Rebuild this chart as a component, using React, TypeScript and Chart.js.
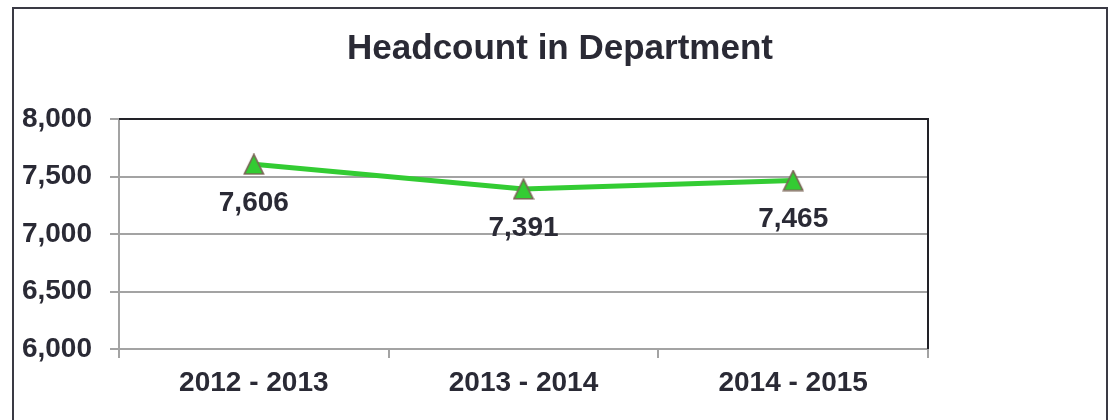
import React, { useEffect, useRef } from "react";
import { Chart, registerables } from "chart.js";

Chart.register(...registerables);

const categories = ["2012 - 2013", "2013 - 2014", "2014 - 2015"];
const headcount = [7606, 7391, 7465];
const yTicks = [6000, 6500, 7000, 7500, 8000];
const chartTitle = "Headcount in Department";

const TEXT = "#2a2a35";
const GRID = "#a3a3a3";
const FONT = "'Liberation Sans', Arial, sans-serif";

function makeTriangle(): HTMLCanvasElement {
  const c = document.createElement("canvas");
  c.width = 22;
  c.height = 22;
  const ctx = c.getContext("2d")!;
  ctx.beginPath();
  ctx.moveTo(11, 1.2);
  ctx.lineTo(20.6, 20.8);
  ctx.lineTo(1.4, 20.8);
  ctx.closePath();
  ctx.fillStyle = "#33cc33";
  ctx.fill();
  ctx.lineWidth = 1.6;
  ctx.strokeStyle = "#7a6656";
  ctx.lineJoin = "miter";
  ctx.stroke();
  return c;
}

const decorPlugin = {
  id: "decor",
  beforeDraw(chart: any) {
    const ctx = chart.ctx;
    ctx.save();
    ctx.fillStyle = "#ffffff";
    ctx.fillRect(0, 0, chart.width, chart.height);
    ctx.strokeStyle = "#3a3a44";
    ctx.lineWidth = 2;
    ctx.strokeRect(13, 8, 1094, 440);
    ctx.fillStyle = TEXT;
    ctx.font = `bold 35px ${FONT}`;
    ctx.textAlign = "center";
    ctx.textBaseline = "middle";
    ctx.fillText(chartTitle, 560, 49);
    ctx.restore();
  },
  afterDatasetsDraw(chart: any) {
    const ctx = chart.ctx;
    const a = chart.chartArea;
    ctx.save();
    ctx.strokeStyle = "#222228";
    ctx.lineWidth = 2;
    ctx.beginPath();
    ctx.moveTo(a.left, a.top);
    ctx.lineTo(a.right, a.top);
    ctx.lineTo(a.right, a.bottom);
    ctx.stroke();
    const meta = chart.getDatasetMeta(0);
    ctx.fillStyle = TEXT;
    ctx.font = `bold 28px ${FONT}`;
    ctx.textAlign = "center";
    ctx.textBaseline = "middle";
    meta.data.forEach((el: any, i: number) => {
      const v = chart.data.datasets[0].data[i] as number;
      ctx.fillText(v.toLocaleString("en-US"), el.x, el.y + 39);
    });
    ctx.restore();
  },
};

export default function App() {
  const ref = useRef<HTMLCanvasElement | null>(null);
  useEffect(() => {
    if (!ref.current) return;
    const tri = makeTriangle();
    const chart = new Chart(ref.current, {
      type: "line",
      data: {
        labels: categories,
        datasets: [
          {
            data: headcount,
            borderColor: "#33cc33",
            borderWidth: 5,
            pointStyle: tri as any,
            pointRadius: 11,
            tension: 0,
          },
        ],
      },
      options: {
        animation: false,
        responsive: false,
        devicePixelRatio: 1,
        layout: { padding: { top: 119, right: 183, bottom: 0, left: 0 } },
        plugins: {
          legend: { display: false },
          title: { display: false },
          tooltip: { enabled: false },
        },
        scales: {
          x: {
            type: "category",
            offset: true,
            grid: {
              offset: true,
              drawOnChartArea: false,
              drawTicks: true,
              tickLength: 9,
              color: GRID,
              lineWidth: 2,
            },
            border: { display: true, color: GRID, width: 2 },
            ticks: {
              color: TEXT,
              font: { family: FONT, size: 28, weight: "bold" },
              padding: 8,
              maxRotation: 0,
            },
            afterFit(scale: any) {
              scale.height = 71;
            },
          },
          y: {
            min: yTicks[0],
            max: yTicks[yTicks.length - 1],
            afterBuildTicks(scale: any) {
              scale.ticks = yTicks.map((v) => ({ value: v }));
            },
            grid: {
              color: GRID,
              lineWidth: 2,
              tickLength: 9,
              drawTicks: true,
            },
            border: { display: true, color: GRID, width: 2 },
            ticks: {
              color: TEXT,
              font: { family: FONT, size: 28, weight: "bold" },
              padding: 18,
              callback: (v: any) => Number(v).toLocaleString("en-US"),
            },
            afterFit(scale: any) {
              scale.width = 119;
            },
          },
        },
      },
      plugins: [decorPlugin],
    });
    return () => chart.destroy();
  }, []);
  return (
    <div style={{ position: "fixed", left: 0, top: 0, width: 1111, height: 420 }}>
      <canvas ref={ref} width={1111} height={420} />
    </div>
  );
}
